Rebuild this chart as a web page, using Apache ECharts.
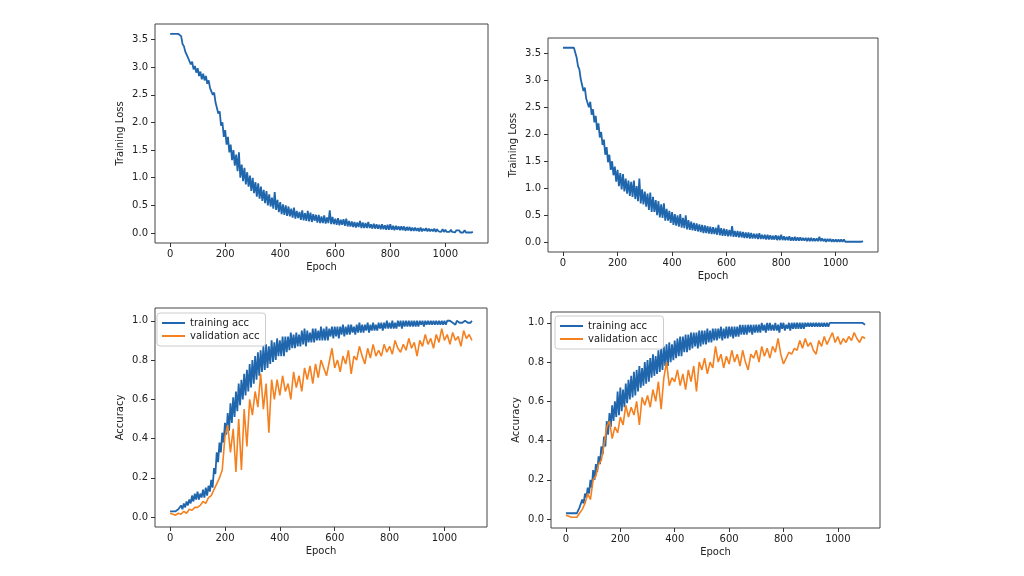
<!DOCTYPE html>
<html>
<head>
<meta charset="utf-8">
<script src="https://cdn.jsdelivr.net/npm/echarts@6/dist/echarts.min.js"></script>
<style>
  html, body { margin: 0; padding: 0; background: #fff; }
  #chart { width: 1024px; height: 576px; }
</style>
</head>
<body>
<div id="chart"></div>
<script>
// epochs between stored points
const TRAIN_STEP = 5;
const VAL_STEP = 10;

const epochTicks = [0, 200, 400, 600, 800, 1000];
const lossTicks = [0, 0.5, 1.0, 1.5, 2.0, 2.5, 3.0, 3.5];
const accTicks = [0, 0.2, 0.4, 0.6, 0.8, 1.0];

// top-left: training loss, one value every 5 epochs
const lossA = [
  3.6, 3.6, 3.6, 3.6, 3.6, 3.6, 3.6, 3.6, 3.56, 3.42,
  3.38, 3.28, 3.3, 3.17, 3.2, 3.05, 3.1, 2.96, 3.02, 2.9,
  2.98, 2.84, 2.92, 2.78, 2.88, 2.76, 2.84, 2.7, 2.76, 2.62,
  2.64, 2.5, 2.54, 2.36, 2.38, 2.16, 2.2, 1.94, 2.0, 1.74,
  1.86, 1.6, 1.74, 1.46, 1.6, 1.32, 1.5, 1.22, 1.42, 1.12,
  1.46, 1.0, 1.24, 0.94, 1.18, 0.88, 1.1, 0.84, 1.04, 0.76,
  1.0, 0.72, 0.92, 0.66, 0.9, 0.62, 0.84, 0.58, 0.78, 0.54,
  0.76, 0.5, 0.7, 0.48, 0.64, 0.44, 0.74, 0.42, 0.6, 0.38,
  0.56, 0.34, 0.52, 0.33, 0.5, 0.31, 0.48, 0.3, 0.44, 0.28,
  0.46, 0.26, 0.4, 0.27, 0.38, 0.24, 0.41, 0.23, 0.36, 0.22,
  0.4, 0.21, 0.37, 0.2, 0.34, 0.22, 0.33, 0.19, 0.33, 0.18,
  0.3, 0.18, 0.32, 0.17, 0.28, 0.18, 0.41, 0.16, 0.29, 0.16,
  0.26, 0.15, 0.27, 0.14, 0.24, 0.15, 0.25, 0.13, 0.26, 0.12,
  0.22, 0.12, 0.21, 0.11, 0.2, 0.1, 0.19, 0.11, 0.22, 0.09,
  0.19, 0.09, 0.18, 0.09, 0.2, 0.09, 0.16, 0.08, 0.17, 0.08,
  0.16, 0.08, 0.15, 0.07, 0.16, 0.07, 0.14, 0.06, 0.15, 0.06,
  0.16, 0.06, 0.13, 0.05, 0.13, 0.06, 0.12, 0.05, 0.12, 0.05,
  0.12, 0.04, 0.11, 0.05, 0.11, 0.04, 0.1, 0.04, 0.1, 0.04,
  0.09, 0.03, 0.1, 0.03, 0.08, 0.04, 0.09, 0.03, 0.08, 0.03,
  0.07, 0.03, 0.08, 0.02, 0.07, 0.03, 0.06, 0.02, 0.07, 0.02,
  0.06, 0.02, 0.05, 0.02, 0.06, 0.02, 0.05, 0.01, 0.05, 0.02,
  0.05, 0.01, 0.04, 0.01, 0.05, 0.01, 0.04, 0.01, 0.04, 0.01,
  0.02
];

// top-right: training loss
const lossB = [
  3.6, 3.6, 3.6, 3.6, 3.6, 3.6, 3.6, 3.6, 3.6, 3.6,
  3.42, 3.26, 3.2, 3.02, 3.0, 2.8, 2.86, 2.66, 2.66, 2.5,
  2.6, 2.36, 2.46, 2.22, 2.34, 2.08, 2.2, 1.94, 2.04, 1.8,
  1.9, 1.62, 1.76, 1.48, 1.62, 1.34, 1.5, 1.24, 1.4, 1.12,
  1.34, 1.04, 1.28, 0.98, 1.26, 0.94, 1.18, 0.9, 1.14, 0.86,
  1.12, 0.84, 1.14, 0.8, 1.04, 0.76, 1.18, 0.72, 0.98, 0.7,
  0.94, 0.66, 0.9, 0.6, 0.92, 0.56, 0.84, 0.56, 0.78, 0.5,
  0.76, 0.46, 0.7, 0.45, 0.72, 0.4, 0.62, 0.4, 0.58, 0.36,
  0.56, 0.32, 0.52, 0.31, 0.5, 0.29, 0.52, 0.27, 0.45, 0.26,
  0.5, 0.24, 0.41, 0.23, 0.38, 0.22, 0.36, 0.21, 0.35, 0.2,
  0.33, 0.19, 0.32, 0.17, 0.31, 0.17, 0.3, 0.16, 0.29, 0.15,
  0.28, 0.15, 0.27, 0.14, 0.32, 0.13, 0.26, 0.12, 0.25, 0.12,
  0.24, 0.11, 0.23, 0.11, 0.3, 0.1, 0.21, 0.1, 0.21, 0.09,
  0.2, 0.09, 0.19, 0.08, 0.18, 0.08, 0.18, 0.07, 0.17, 0.07,
  0.16, 0.07, 0.16, 0.06, 0.17, 0.06, 0.14, 0.06, 0.14, 0.05,
  0.14, 0.05, 0.13, 0.05, 0.12, 0.05, 0.13, 0.04, 0.12, 0.04,
  0.14, 0.04, 0.11, 0.04, 0.1, 0.04, 0.11, 0.03, 0.09, 0.03,
  0.1, 0.03, 0.09, 0.03, 0.09, 0.03, 0.08, 0.03, 0.08, 0.02,
  0.08, 0.02, 0.08, 0.02, 0.07, 0.02, 0.07, 0.02, 0.1, 0.02,
  0.07, 0.02, 0.06, 0.01, 0.06, 0.02, 0.06, 0.01, 0.05, 0.01,
  0.05, 0.01, 0.05, 0.01, 0.05, 0.01, 0.05, 0.01, 0.04, 0.01,
  0.04, 0.01, 0.04, 0.01, 0.04, 0.01, 0.03, 0.01, 0.04, 0.01,
  0.02
];

// bottom-left: accuracy
const accTrainA = [
  0.03, 0.03, 0.03, 0.03, 0.03, 0.03, 0.04, 0.03, 0.06, 0.04,
  0.07, 0.05, 0.08, 0.06, 0.09, 0.07, 0.11, 0.08, 0.12, 0.09,
  0.13, 0.09, 0.12, 0.1, 0.14, 0.1, 0.15, 0.11, 0.16, 0.13,
  0.19, 0.15, 0.25, 0.22, 0.33, 0.28, 0.38, 0.33, 0.43, 0.38,
  0.48, 0.42, 0.53, 0.44, 0.58, 0.48, 0.61, 0.51, 0.64, 0.54,
  0.68, 0.57, 0.7, 0.6, 0.73, 0.62, 0.75, 0.64, 0.78, 0.66,
  0.8, 0.68, 0.82, 0.7, 0.84, 0.72, 0.85, 0.74, 0.87, 0.75,
  0.88, 0.76, 0.87, 0.78, 0.9, 0.79, 0.89, 0.8, 0.91, 0.82,
  0.9, 0.82, 0.92, 0.82, 0.92, 0.84, 0.92, 0.85, 0.94, 0.86,
  0.93, 0.86, 0.94, 0.87, 0.93, 0.87, 0.95, 0.88, 0.96, 0.87,
  0.95, 0.89, 0.94, 0.89, 0.96, 0.89, 0.96, 0.9, 0.95, 0.9,
  0.97, 0.9, 0.96, 0.9, 0.97, 0.9, 0.96, 0.92, 0.97, 0.91,
  0.97, 0.92, 0.97, 0.91, 0.97, 0.93, 0.98, 0.92, 0.97, 0.93,
  0.98, 0.93, 0.98, 0.94, 0.97, 0.93, 0.98, 0.94, 0.99, 0.94,
  0.98, 0.94, 0.98, 0.95, 0.99, 0.94, 0.98, 0.95, 0.99, 0.95,
  0.98, 0.95, 0.99, 0.96, 0.99, 0.95, 0.99, 0.96, 1.0, 0.96,
  0.99, 0.96, 1.0, 0.96, 0.99, 0.96, 1.0, 0.97, 1.0, 0.96,
  1.0, 0.97, 1.0, 0.97, 1.0, 0.97, 1.0, 0.97, 1.0, 0.97,
  1.0, 0.97, 1.0, 0.98, 1.0, 0.97, 1.0, 0.98, 1.0, 0.98,
  1.0, 0.98, 1.0, 0.98, 1.0, 0.98, 1.0, 0.98, 1.0, 0.98,
  1.0, 0.98, 1.0, 0.99, 1.0, 0.99, 0.99, 1.0, 0.98, 1.0,
  1.0, 0.99, 1.0, 0.99, 0.99, 1.0, 1.0, 0.99, 1.0, 0.99,
  1.0
];

// one value every 10 epochs
const accValA = [
  0.02, 0.015, 0.01, 0.02, 0.015, 0.03, 0.02, 0.04, 0.035, 0.05,
  0.05, 0.06, 0.08, 0.07, 0.1, 0.11, 0.14, 0.17, 0.2, 0.24,
  0.41, 0.47, 0.33, 0.45, 0.23, 0.5, 0.24, 0.55, 0.36, 0.6,
  0.52, 0.64, 0.56, 0.73, 0.55, 0.68, 0.43, 0.7, 0.6, 0.7,
  0.62, 0.72, 0.64, 0.68, 0.6, 0.74, 0.66, 0.72, 0.64, 0.76,
  0.7, 0.77, 0.68, 0.78, 0.71, 0.8, 0.76, 0.72, 0.79, 0.86,
  0.76, 0.8, 0.74, 0.82, 0.78, 0.85, 0.73, 0.82, 0.8, 0.87,
  0.82, 0.78, 0.86, 0.81, 0.88, 0.82, 0.85, 0.82, 0.88, 0.84,
  0.87, 0.83, 0.9, 0.86, 0.84, 0.88, 0.85, 0.91, 0.86, 0.89,
  0.82, 0.9, 0.87, 0.93, 0.88, 0.91, 0.86, 0.93, 0.89, 0.96,
  0.9, 0.93, 0.88, 0.94, 0.9, 0.92, 0.87, 0.95, 0.91, 0.93,
  0.9
];

// bottom-right: accuracy
const accTrainB = [
  0.03, 0.03, 0.03, 0.03, 0.03, 0.03, 0.03, 0.03, 0.03, 0.04,
  0.06, 0.05, 0.1, 0.08, 0.13, 0.11, 0.16, 0.13, 0.2, 0.16,
  0.25, 0.2, 0.28, 0.24, 0.32, 0.28, 0.37, 0.33, 0.42, 0.37,
  0.5, 0.43, 0.54, 0.47, 0.58, 0.5, 0.6, 0.52, 0.65, 0.53,
  0.67, 0.55, 0.66, 0.57, 0.69, 0.59, 0.71, 0.61, 0.73, 0.62,
  0.75, 0.63, 0.76, 0.65, 0.78, 0.67, 0.77, 0.68, 0.8, 0.69,
  0.81, 0.7, 0.82, 0.72, 0.84, 0.73, 0.83, 0.74, 0.86, 0.75,
  0.87, 0.76, 0.88, 0.78, 0.89, 0.78, 0.9, 0.8, 0.89, 0.81,
  0.91, 0.82, 0.92, 0.83, 0.93, 0.83, 0.93, 0.85, 0.94, 0.85,
  0.94, 0.86, 0.95, 0.87, 0.95, 0.88, 0.95, 0.87, 0.96, 0.88,
  0.96, 0.89, 0.96, 0.89, 0.97, 0.9, 0.96, 0.9, 0.97, 0.91,
  0.97, 0.91, 0.97, 0.92, 0.98, 0.91, 0.97, 0.92, 0.98, 0.92,
  0.98, 0.93, 0.98, 0.92, 0.98, 0.93, 0.98, 0.93, 0.99, 0.94,
  0.99, 0.94, 0.99, 0.94, 0.99, 0.95, 0.99, 0.94, 0.99, 0.95,
  0.99, 0.95, 0.99, 0.95, 1.0, 0.96, 0.99, 0.95, 1.0, 0.96,
  1.0, 0.96, 0.99, 0.96, 1.0, 0.96, 0.99, 0.95, 1.0, 0.97,
  1.0, 0.96, 0.99, 0.97, 1.0, 0.96, 1.0, 0.97, 1.0, 0.97,
  1.0, 0.97, 1.0, 0.97, 1.0, 0.97, 1.0, 0.98, 1.0, 0.98,
  1.0, 0.98, 1.0, 0.98, 1.0, 0.98, 1.0, 0.98, 1.0, 0.98,
  1.0, 0.98, 1.0, 0.98, 1.0, 0.99, 1.0, 0.99, 1.0, 0.99,
  1.0, 0.99, 1.0, 0.99, 1.0, 0.99, 1.0, 0.99, 1.0, 0.99,
  1.0, 0.99, 1.0, 0.99, 1.0, 0.99, 1.0, 0.99, 1.0, 0.99,
  0.99
];

const accValB = [
  0.02, 0.015, 0.01, 0.01, 0.01, 0.03, 0.05, 0.08, 0.13, 0.1,
  0.2, 0.22, 0.28, 0.3, 0.38, 0.47, 0.5, 0.41, 0.47, 0.44,
  0.52, 0.48, 0.58, 0.52, 0.57, 0.53, 0.6, 0.48, 0.62, 0.58,
  0.63, 0.57, 0.66, 0.6, 0.7, 0.56, 0.72, 0.8, 0.68, 0.72,
  0.7, 0.76, 0.68, 0.74, 0.66, 0.76, 0.7, 0.78, 0.65, 0.8,
  0.76, 0.82, 0.74, 0.8, 0.77, 0.88, 0.8, 0.84, 0.77, 0.83,
  0.79, 0.86, 0.8, 0.84, 0.78, 0.86, 0.8, 0.76, 0.84, 0.82,
  0.86, 0.8, 0.88, 0.83, 0.87, 0.82, 0.88, 0.85, 0.92, 0.84,
  0.79, 0.82, 0.85, 0.84, 0.87, 0.86, 0.91, 0.87, 0.92, 0.88,
  0.9, 0.86, 0.84, 0.91, 0.88, 0.93, 0.89, 0.92, 0.95, 0.9,
  0.93, 0.89, 0.92, 0.9, 0.93, 0.91, 0.95, 0.92, 0.9, 0.93,
  0.92
];

const BLUE = '#1f66ad';
const ORANGE = '#f5801f';
const FONT = 'DejaVu Sans';

// pair each stored value with its epoch
function withEpochs(values, step) {
  return values.map((v, i) => [i * step, v]);
}

function xAxisFor(gridIndex) {
  return {
    type: 'value', gridIndex: gridIndex, min: -55, max: 1155,
    name: 'Epoch', nameLocation: 'middle', nameGap: 19,
    nameTextStyle: { color: '#222', fontSize: 10, fontFamily: FONT },
    axisLine: { show: false, onZero: false },
    axisTick: { customValues: epochTicks, length: 4, lineStyle: { color: '#333' } },
    axisLabel: {
      customValues: epochTicks, color: '#222', fontSize: 10, fontFamily: FONT, margin: 6,
      formatter: v => String(v)
    },
    splitLine: { show: false }
  };
}

function yAxisFor(gridIndex, name, min, max, ticks) {
  return {
    type: 'value', gridIndex: gridIndex, min: min, max: max,
    name: name, nameLocation: 'middle', nameGap: 30,
    nameTextStyle: { color: '#222', fontSize: 10, fontFamily: FONT },
    axisLine: { show: false, onZero: false },
    axisTick: { customValues: ticks, length: 4, lineStyle: { color: '#333' } },
    axisLabel: {
      customValues: ticks, color: '#222', fontSize: 10, fontFamily: FONT, margin: 7,
      formatter: v => v.toFixed(1)
    },
    splitLine: { show: false }
  };
}

function lineSeries(name, idx, values, step, color, width) {
  return {
    name: name, type: 'line', xAxisIndex: idx, yAxisIndex: idx,
    data: withEpochs(values, step), showSymbol: false, symbol: 'none',
    lineStyle: { color: color, width: width }, itemStyle: { color: color },
    animation: false
  };
}

const legendStyle = {
  orient: 'vertical', icon: 'rect', itemWidth: 23, itemHeight: 2, itemGap: 3,
  padding: [5, 6, 5, 5],
  borderColor: '#ccc', borderWidth: 1, borderRadius: 3, backgroundColor: '#fff',
  textStyle: { color: '#222', fontSize: 10, fontFamily: FONT },
  data: ['training acc', 'validation acc']
};

const chart = echarts.init(document.getElementById('chart'));
chart.setOption({
  backgroundColor: '#fff',
  animation: false,
  grid: [
    { left: 155, top: 24, width: 333, height: 219, show: true, borderColor: '#444', borderWidth: 1 },
    { left: 548, top: 38, width: 330, height: 214, show: true, borderColor: '#444', borderWidth: 1 },
    { left: 155, top: 308, width: 332, height: 219, show: true, borderColor: '#444', borderWidth: 1 },
    { left: 551, top: 312, width: 329, height: 216, show: true, borderColor: '#444', borderWidth: 1 }
  ],
  xAxis: [xAxisFor(0), xAxisFor(1), xAxisFor(2), xAxisFor(3)],
  yAxis: [
    yAxisFor(0, 'Training Loss', -0.18, 3.78, lossTicks),
    yAxisFor(1, 'Training Loss', -0.18, 3.78, lossTicks),
    yAxisFor(2, 'Accuracy', -0.05, 1.065, accTicks),
    yAxisFor(3, 'Accuracy', -0.045, 1.055, accTicks)
  ],
  legend: [
    Object.assign({}, legendStyle, { left: 157, top: 313 }),
    Object.assign({}, legendStyle, { left: 555, top: 316 })
  ],
  series: [
    lineSeries('loss', 0, lossA, TRAIN_STEP, BLUE, 1.8),
    lineSeries('loss', 1, lossB, TRAIN_STEP, BLUE, 1.8),
    lineSeries('training acc', 2, accTrainA, TRAIN_STEP, BLUE, 1.8),
    lineSeries('validation acc', 2, accValA, VAL_STEP, ORANGE, 1.6),
    lineSeries('training acc', 3, accTrainB, TRAIN_STEP, BLUE, 1.8),
    lineSeries('validation acc', 3, accValB, VAL_STEP, ORANGE, 1.6)
  ]
});
</script>
</body>
</html>
